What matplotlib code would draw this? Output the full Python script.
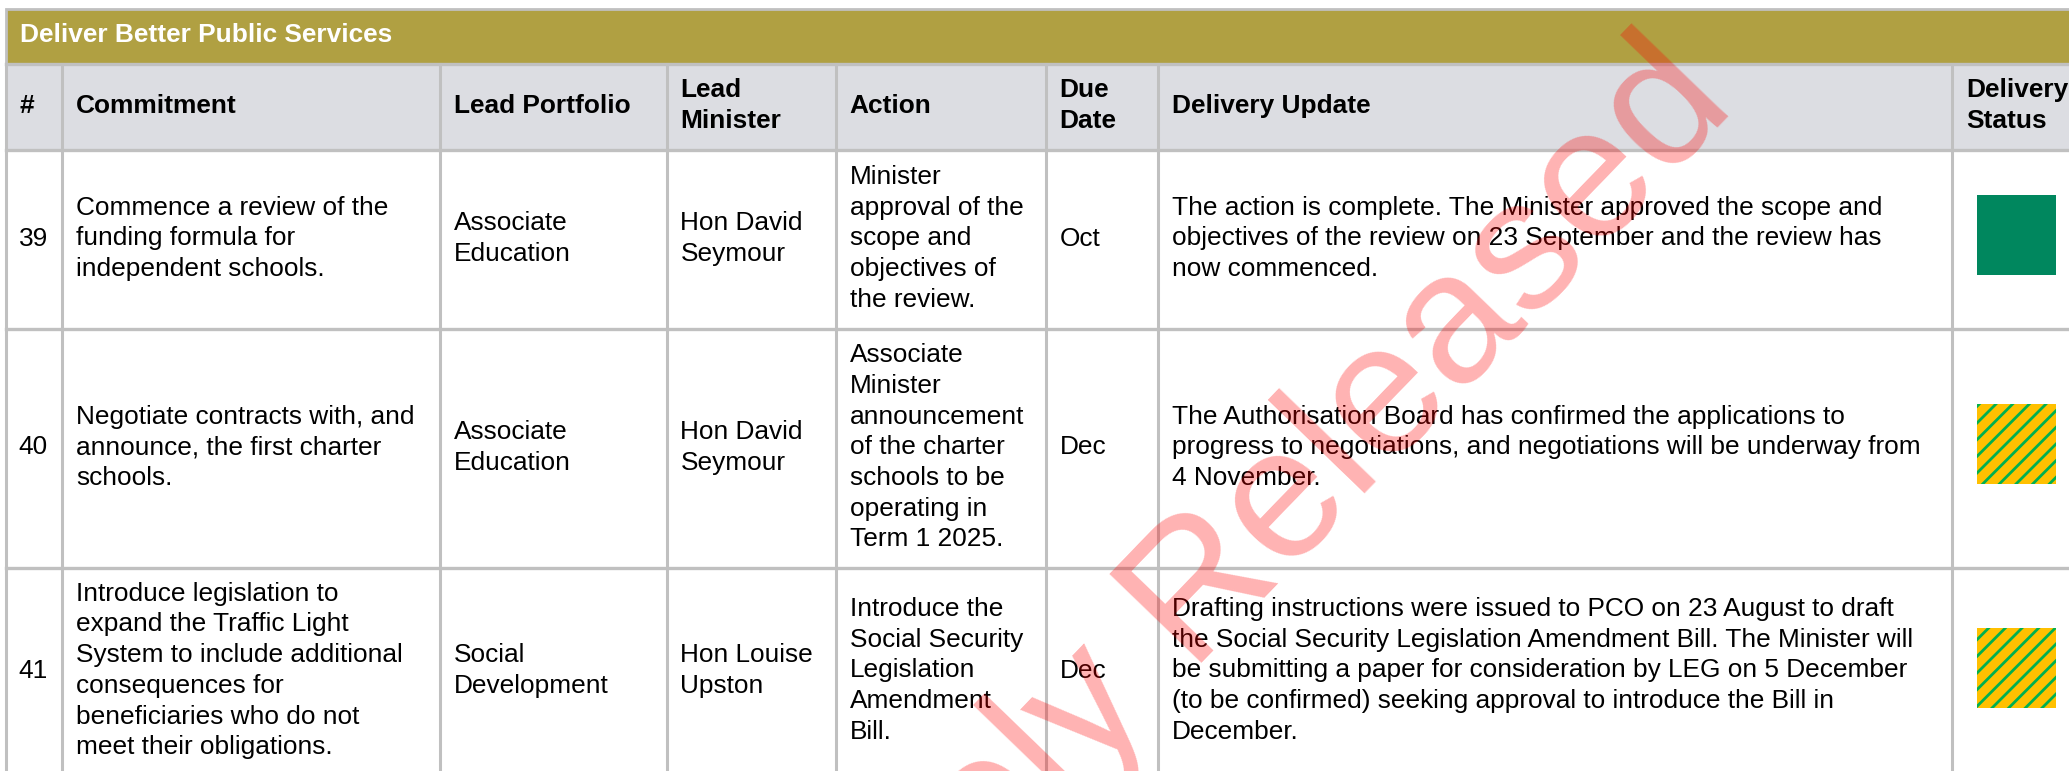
import matplotlib
matplotlib.use("Agg")
import matplotlib.pyplot as plt
from matplotlib.patches import Rectangle

plt.rcParams['font.family'] = ['Liberation Sans', 'DejaVu Sans']
plt.rcParams['hatch.linewidth'] = 2.0

# table content
section = "Deliver Better Public Services"
headers = ["#", "Commitment", "Lead Portfolio", "Lead\nMinister", "Action",
           "Due\nDate", "Delivery Update", "Delivery\nStatus"]
numbers = ["39", "40", "41"]
commitments = [
    "Commence a review of the\nfunding formula for\nindependent schools.",
    "Negotiate contracts with, and\nannounce, the first charter\nschools.",
    "Introduce legislation to\nexpand the Traffic Light\nSystem to include additional\n"
    "consequences for\nbeneficiaries who do not\nmeet their obligations.",
]
portfolios = ["Associate\nEducation", "Associate\nEducation", "Social\nDevelopment"]
ministers = ["Hon David\nSeymour", "Hon David\nSeymour", "Hon Louise\nUpston"]
actions = [
    "Minister\napproval of the\nscope and\nobjectives of\nthe review.",
    "Associate\nMinister\nannouncement\nof the charter\nschools to be\noperating in\nTerm 1 2025.",
    "Introduce the\nSocial Security\nLegislation\nAmendment\nBill.",
]
due = ["Oct", "Dec", "Dec"]
updates = [
    "The action is complete. The Minister approved the scope and\n"
    "objectives of the review on 23 September and the review has\n"
    "now commenced.",
    "The Authorisation Board has confirmed the applications to\n"
    "progress to negotiations, and negotiations will be underway from\n"
    "4 November.",
    "Drafting instructions were issued to PCO on 23 August to draft\n"
    "the Social Security Legislation Amendment Bill. The Minister will\n"
    "be submitting a paper for consideration by LEG on 5 December\n"
    "(to be confirmed) seeking approval to introduce the Bill in\n"
    "December.",
]
status = ["complete", "at risk", "at risk"]
watermark = "Proactively Released"

# layout (pixels)
W, H = 2069, 771
col_edges = [5.5, 62, 439.5, 666.5, 835.5, 1045.5, 1157.5, 1952, 2090]
title_top, title_bot, head_bot = 9, 63.5, 150
row_edges = [head_bot, 329, 567.5, 775]
pad = 14
pitch = 30.7
base_off = 6
fs = 18.9
grid = '#C0C0C0'

fig = plt.figure(figsize=(W / 100, H / 100), dpi=100)
ax = fig.add_axes([0, 0, 1, 1])
ax.set_xlim(0, W)
ax.set_ylim(H, 0)
ax.axis('off')


def cell_text(x, yc, txt, **kw):
    lines = txt.split("\n")
    n = len(lines)
    for i, line in enumerate(lines):
        y = yc + (i - (n - 1) / 2) * pitch + base_off
        ax.text(x, y, line, ha='left', va='baseline', fontsize=fs, **kw)


# title bar
ax.add_patch(Rectangle((col_edges[0], title_top), W, title_bot - title_top,
                       facecolor='#B0A042', edgecolor=grid, lw=2))
cell_text(col_edges[0] + 14, (title_top + title_bot) / 2, section,
          color='white', fontweight='bold')

# header row
ax.add_patch(Rectangle((col_edges[0], title_bot), W, head_bot - title_bot,
                       facecolor='#DCDDE2', edgecolor='none'))
for j, h in enumerate(headers):
    cell_text(col_edges[j] + pad, (title_bot + head_bot) / 2, h,
              color='black', fontweight='bold')

# grid lines
for x in col_edges[:-1]:
    ax.plot([x, x], [title_bot, H + 10], color=grid, lw=2.2, zorder=2)
for y in [title_bot] + row_edges[:-1]:
    ax.plot([col_edges[0], W + 10], [y, y], color=grid, lw=2.4, zorder=2)

# body rows
box_w, box_h = 79, 80
for r in range(len(numbers)):
    yc = (row_edges[r] + row_edges[r + 1]) / 2
    if r == len(numbers) - 1:
        yc = row_edges[r] + 104
    cols = [numbers[r], commitments[r], portfolios[r], ministers[r],
            actions[r], due[r], updates[r]]
    for j, txt in enumerate(cols):
        x0 = col_edges[j] + (pad - 1 if j == 0 else pad)
        cell_text(x0, yc, txt, color='black')
    bx = col_edges[7] + 25
    if status[r] == "complete":
        ax.add_patch(Rectangle((bx, yc - box_h / 2 - 5), box_w, box_h,
                               facecolor='#00875E', edgecolor='none', zorder=3))
    else:
        ax.add_patch(Rectangle((bx, yc - box_h / 2 - 4), box_w, box_h,
                               facecolor='#FFC000', edgecolor='#00B050',
                               hatch='//', lw=0, zorder=3))

# watermark
ax.text(1738, 108, watermark, rotation=46, rotation_mode='anchor',
        ha='right', va='baseline', fontsize=134, color='red', alpha=0.3,
        zorder=10)

fig.savefig("out.png", dpi=100)
